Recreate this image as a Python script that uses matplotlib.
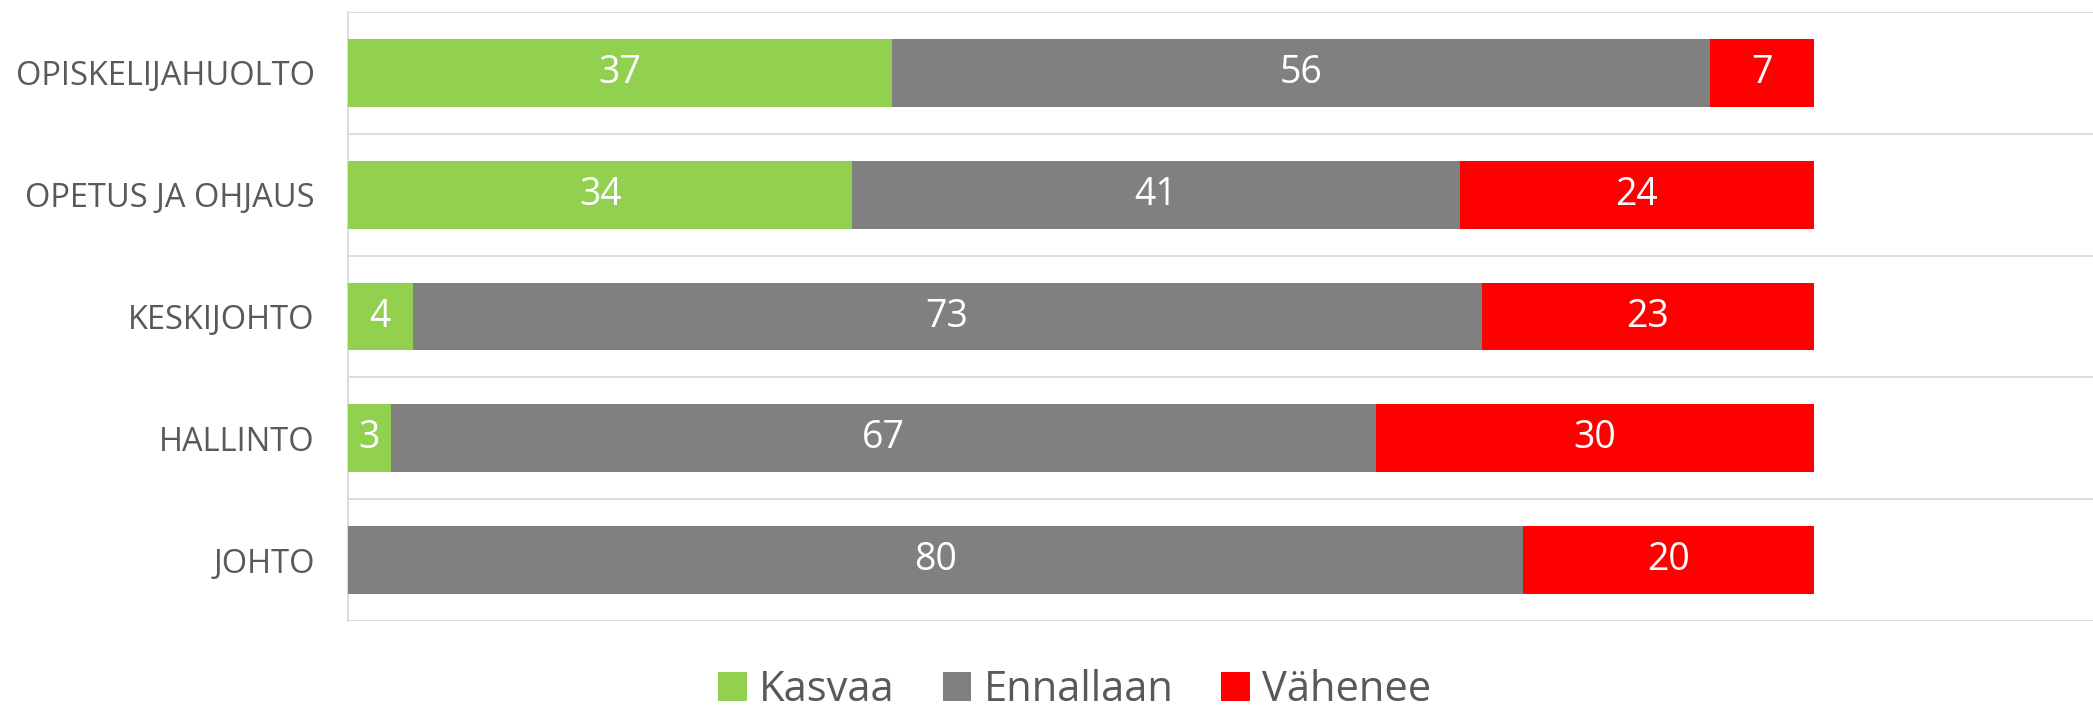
import matplotlib
matplotlib.use("Agg")
import matplotlib.pyplot as plt
import numpy as np

categories = ["OPISKELIJAHUOLTO", "OPETUS JA OHJAUS", "KESKIJOHTO", "HALLINTO", "JOHTO"]
kasvaa = [37.1, 34.4, 4.4, 2.9, 0.0]
ennallaan = [55.8, 41.4, 72.9, 67.2, 80.1]
vahenee = [7.1, 24.2, 22.7, 29.9, 19.9]
series_names = ["Kasvaa", "Ennallaan", "Vähenee"]
colors = ["#92d050", "#808080", "#ff0000"]

fig = plt.figure(figsize=(20.93, 7.08), dpi=100)
ax = fig.add_axes([348/2093, 1-621/708, 1-348/2093, (621-12)/708])

y = np.arange(len(categories))
left = np.zeros(len(categories))
for name, vals, c in zip(series_names, [kasvaa, ennallaan, vahenee], colors):
    bars = ax.barh(y, vals, left=left, height=0.557, color=c, label=name, zorder=3)
    labels = [f"{v:.0f}" if v > 0 else "" for v in vals]
    ax.bar_label(bars, labels=labels, label_type="center", color="white",
                 fontsize=27, family="Open Sans")
    left = left + np.array(vals)

ax.set_xlim(0, 119)
ax.set_ylim(len(categories) - 0.5, -0.5)
for b in np.arange(-0.5, len(categories), 1.0):
    ax.axhline(b, color="#d9d9d9", lw=1.3, zorder=1)
ax.set_xticks([])
ax.set_yticks(y)
ax.set_yticklabels(categories, family="Open Sans", fontsize=23.5, color="#595959")
ax.tick_params(axis="y", length=0, pad=24)
for s in ["top", "right", "bottom"]:
    ax.spines[s].set_visible(False)
ax.spines["left"].set_color("#d9d9d9")
ax.spines["left"].set_linewidth(1.3)

leg = fig.legend(loc="center", bbox_to_anchor=(0.5136, 0.025), ncol=3, frameon=False,
                 prop={"family": "Open Sans", "size": 30},
                 handlelength=0.68, handleheight=0.68, handletextpad=0.3,
                 columnspacing=1.15, borderaxespad=0)
for t in leg.get_texts():
    t.set_color("#595959")

fig.savefig("out.png", dpi=100)
